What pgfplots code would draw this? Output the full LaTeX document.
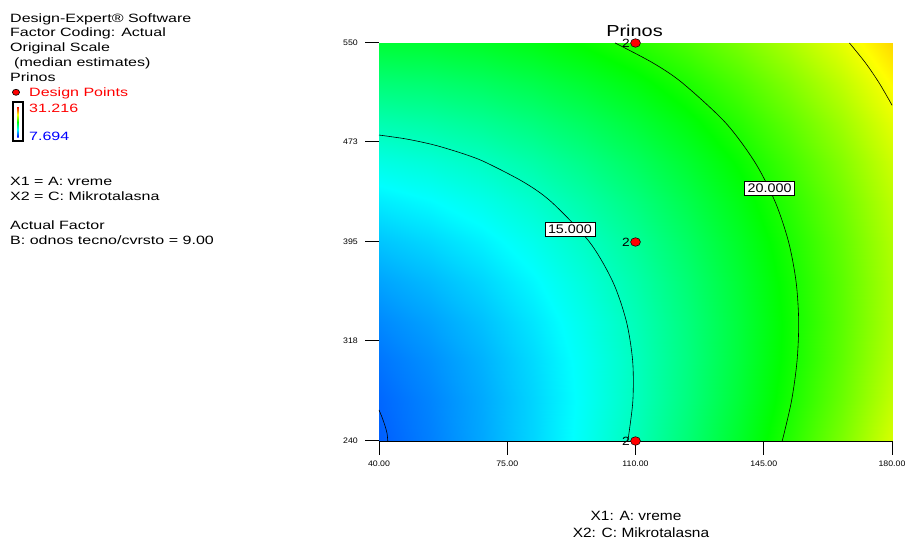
\documentclass[border=0pt]{standalone}
\usepackage{pgfplots}
\pgfplotsset{compat=1.18}
\usepackage{fontspec}
\setmainfont{Liberation Sans}
\newfontfamily\infofont{Liberation Sans}[FakeStretch=1.33]
\newfontfamily\titlefont{Liberation Sans}[FakeStretch=1.25]
\newfontfamily\labelfont{Liberation Sans}[FakeStretch=1.15]
\newfontfamily\tickfont{Liberation Sans}[FakeStretch=1.1]

\definecolor{dxred}{RGB}{255,0,0}
\definecolor{dxblue}{RGB}{0,0,255}

% colour bar of the response scale (blue - cyan - green - yellow - red)
\pgfdeclareverticalshading{dxbar}{8bp}{rgb(0bp)=(0,0,1); rgb(10bp)=(0,1,1); rgb(20bp)=(0,1,0); rgb(30bp)=(1,1,0); rgb(40bp)=(1,0,0)}

\begin{document}
\begin{tikzpicture}[x=1bp,y=1bp]
\useasboundingbox (0,0) rectangle (907,539);

% ---------- information block ----------
\begin{scope}[every node/.style={anchor=base west, inner sep=0pt, font=\infofont\fontsize{12.1}{14}\selectfont}]
\node at (10,516.3) {Design-Expert® Software};
\node at (10,502.3) {Factor Coding: Actual};
\node at (10,487.3) {Original Scale};
\node at (14,472.8) {(median estimates)};
\node at (10,457.3) {Prinos};
\node[text=dxred] at (29,442.3) {Design Points};
\node[text=dxred] at (29,426.7) {31.216};
\node[text=dxblue] at (29,398.3) {7.694};
\node at (10,353) {X1 = A: vreme};
\node at (10,338.3) {X2 = C: Mikrotalasna};
\node at (10,309) {Actual Factor};
\node at (10,294.7) {B: odnos tecno/cvrsto = 9.00};
\end{scope}
\filldraw[fill=dxred, draw=black, line width=0.6bp] (16,446.7) ellipse (3.6 and 3.0);
\shade[shading=dxbar] (14,398) rectangle (22,436);
\draw[line width=2bp] (13,397.5) rectangle (23,436.5);

% ---------- response surface ----------
\begin{axis}[
  at={(379bp,98bp)}, anchor=south west,
  scale only axis, width=513bp, height=398bp,
  xmin=40, xmax=180, ymin=240, ymax=550,
  xtick={40,75,110,145,180},
  xticklabels={40.00,75.00,110.00,145.00,180.00},
  ytick={240,318,395,473,550},
  tick align=outside, tick pos=left,
  major tick length=14bp,
  tick style={black, line width=1bp},
  axis line style={black, line width=0.8bp},
  /pgf/number format/assume math mode=true,
  ticklabel style={font=\tickfont\fontsize{8}{9}\selectfont},
  xticklabel style={anchor=north, inner sep=0pt, yshift=-6bp},
  yticklabel style={anchor=east, inner sep=0pt, xshift=-7bp},
  colormap={dx}{rgb255(0cm)=(0,0,255); rgb255(1cm)=(0,255,255); rgb255(2cm)=(0,255,0); rgb255(3cm)=(255,255,0); rgb255(4cm)=(255,0,0)},
  point meta min=7.694, point meta max=31.216,
  clip=false,
]
\addplot[surf, shader=interp, mesh/cols=11, point meta=\thisrow{z}] table[x=x, y=y] {
x y z
40 240 9.870
54 240 10.631
68 240 11.546
82 240 12.614
96 240 13.836
110 240 15.213
124 240 16.742
138 240 18.426
152 240 20.264
166 240 22.255
180 240 24.400
40 271 10.053
54 271 10.749
68 271 11.598
82 271 12.602
96 271 13.759
110 271 15.070
124 271 16.535
138 271 18.154
152 271 19.926
166 271 21.853
180 271 23.933
40 302 10.381
54 302 11.011
68 302 11.796
82 302 12.735
96 302 13.827
110 302 15.073
124 302 16.473
138 302 18.027
152 302 19.734
166 302 21.595
180 302 23.611
40 333 10.853
54 333 11.419
68 333 12.139
82 333 13.012
96 333 14.040
110 333 15.221
124 333 16.556
138 333 18.044
152 333 19.687
166 333 21.483
180 333 23.433
40 364 11.470
54 364 11.971
68 364 12.626
82 364 13.435
96 364 14.397
110 364 15.513
124 364 16.783
138 364 18.207
152 364 19.784
166 364 21.515
180 364 23.400
40 395 12.233
54 395 12.668
68 395 13.258
82 395 14.002
96 395 14.899
110 395 15.950
124 395 17.155
138 395 18.514
152 395 20.026
166 395 21.692
180 395 23.513
40 426 13.139
54 426 13.510
68 426 14.035
82 426 14.714
96 426 15.546
110 426 16.532
124 426 17.672
138 426 18.966
152 426 20.413
166 426 22.014
180 426 23.769
40 457 14.191
54 457 14.497
68 457 14.957
82 457 15.570
96 457 16.338
110 457 17.259
124 457 18.334
138 457 19.562
152 457 20.945
166 457 22.481
180 457 24.171
40 488 15.388
54 488 15.629
68 488 16.023
82 488 16.572
96 488 17.274
110 488 18.130
124 488 19.140
138 488 20.304
152 488 21.621
166 488 23.093
180 488 24.718
40 519 16.729
54 519 16.905
68 519 17.235
82 519 17.718
96 519 18.355
110 519 19.146
124 519 20.091
138 519 21.190
152 519 22.443
166 519 23.849
180 519 25.409
40 550 18.215
54 550 18.326
68 550 18.591
82 550 19.009
96 550 19.581
110 550 20.308
124 550 21.187
138 550 22.221
152 550 23.409
166 550 24.750
180 550 26.245
};

% contour lines (10, 15, 20, 25)
\addplot[black, line width=0.6bp, smooth] coordinates {(42.39,240) (42.18,246.2) (41.58,252.4) (40.81,258.6) (40,264.2)};
\addplot[black, line width=0.6bp, smooth] coordinates {(107.90,240) (109.27,271) (109.23,302) (107.52,333) (103.81,364) (97.44,395) (87.12,426) (79.56,441.5) (69.12,457) (63.56,463.2) (56.56,469.4) (52.17,472.5) (46.69,475.6) (40,478.3)};
\addplot[black, line width=0.6bp, smooth] coordinates {(150.04,240) (152.56,271) (154.07,302) (154.53,333) (153.82,364) (151.78,395) (148.15,426) (142.61,457) (134.53,488) (122.74,519) (114.73,534.5) (104.43,550)};
\addplot[black, line width=0.6bp, smooth] coordinates {(180,501.5) (179.62,503.5) (176.46,519) (172.76,534.5) (168.38,550)};

% contour labels
\node[draw=black, fill=white, line width=0.5bp, inner xsep=3bp, inner ysep=2.5bp, font=\labelfont\fontsize{12.5}{14}\selectfont] at (axis cs:92.1,405.1) {15.000};
\node[draw=black, fill=white, line width=0.5bp, inner xsep=3bp, inner ysep=2.5bp, font=\labelfont\fontsize{12.5}{14}\selectfont] at (axis cs:146.6,436.7) {20.000};

% design points (replicated twice)
\addplot[only marks, mark=*, mark size=4.3bp,
  mark options={fill=dxred, draw=black, line width=0.5bp, xscale=1.15},
  nodes near coords={2},
  every node near coord/.style={anchor=east, inner sep=0pt, xshift=-5.5bp, font=\labelfont\fontsize{12}{14}\selectfont}]
  coordinates {(110,240) (110,395) (110,550)};
\end{axis}

% title and axis captions
\node[anchor=base, inner sep=0pt, font=\titlefont\fontsize{16}{18}\selectfont] at (634.5,502.3) {Prinos};
\node[anchor=base, inner sep=0pt, font=\labelfont\fontsize{13.5}{15}\selectfont] at (636,18) {X1: A: vreme};
\node[anchor=base, inner sep=0pt, font=\labelfont\fontsize{13.5}{15}\selectfont] at (641,1.2) {X2: C: Mikrotalasna};
\end{tikzpicture}
\end{document}
